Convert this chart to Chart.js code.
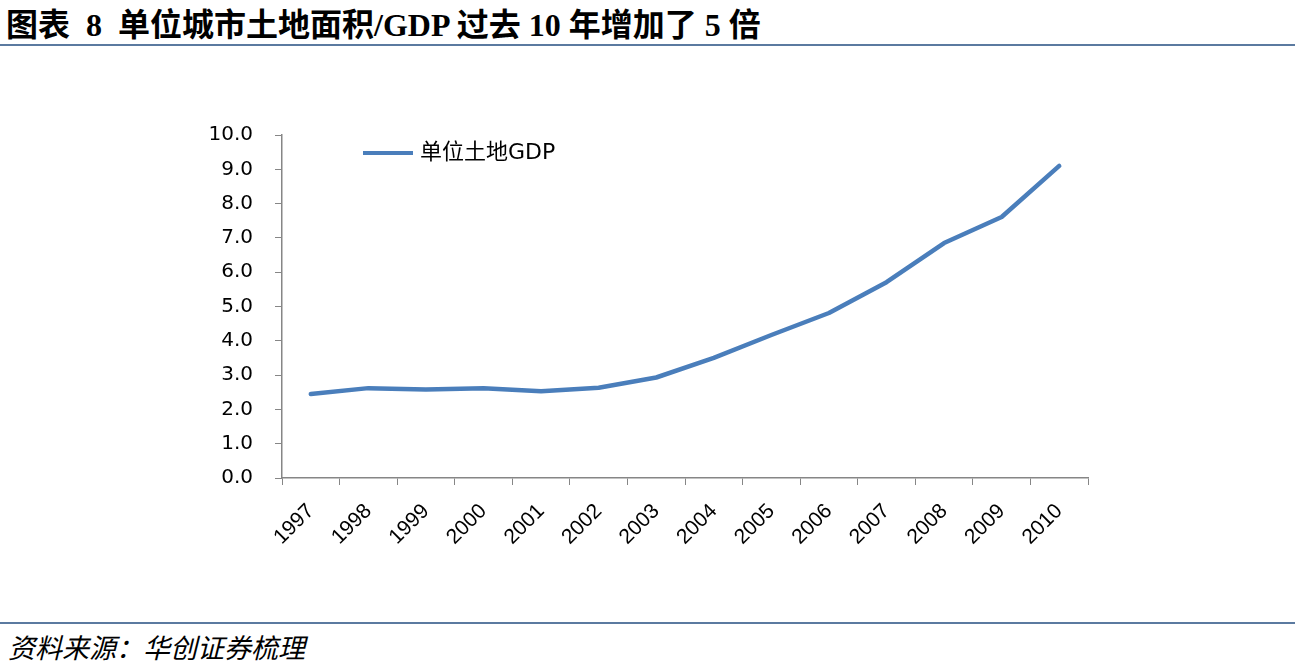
<!DOCTYPE html>
<html>
<head>
<meta charset="utf-8">
<script src="https://cdn.jsdelivr.net/npm/chart.js@4.4.1/dist/chart.umd.min.js"></script>
<style>
  html, body { margin: 0; padding: 0; background: #fff; }
  body { width: 1295px; height: 663px; position: relative; overflow: hidden; }
  .title {
    position: absolute; left: 6px; top: -1px;
    font: bold 32px "Liberation Serif", "Noto Sans CJK SC", serif;
    color: #000; white-space: nowrap;
  }
  .rule { position: absolute; left: 0; width: 1295px; height: 2px; background: #5b7aa0; }
  .source {
    position: absolute; left: 8px; top: 627px;
    font: italic 27px "Noto Sans CJK SC", serif; color: #000; white-space: nowrap;
  }
  #wrap { position: absolute; left: 0; top: 60px; width: 1295px; height: 540px; }
</style>
</head>
<body>
<div class="title">图表&nbsp; 8&nbsp; 单位城市土地面积/GDP 过去 10 年增加了 5 倍</div>
<div class="rule" style="top:44px"></div>
<div id="wrap"><canvas id="landChart"></canvas></div>
<div class="rule" style="top:622px"></div>
<div class="source">资料来源：华创证券梳理</div>

<script>
// data
const years = ['1997', '1998', '1999', '2000', '2001', '2002', '2003',
               '2004', '2005', '2006', '2007', '2008', '2009', '2010'];
const landGdp = [2.45, 2.62, 2.58, 2.62, 2.53, 2.63, 2.93,
                 3.50, 4.17, 4.81, 5.71, 6.85, 7.61, 9.10];
const seriesName = '单位土地GDP';

const axisGray = '#868686';
const lineBlue = '#4a7ebb';

// legend drawn inside the plot, like the original
const insideLegend = {
    id: 'insideLegend',
    afterDraw(chart) {
        const c = chart.ctx;
        const ds = chart.data.datasets[0];
        c.save();
        c.strokeStyle = ds.borderColor;
        c.lineWidth = 4;
        c.beginPath();
        c.moveTo(363, 93);
        c.lineTo(413, 93);
        c.stroke();
        c.fillStyle = '#000';
        c.font = '22px "DejaVu Sans", "Noto Sans CJK SC", sans-serif';
        c.textBaseline = 'middle';
        c.fillText(ds.label, 420, 93);
        c.restore();
    }
};

const ctx = document.getElementById('landChart').getContext('2d');
let landChart = new Chart(ctx, {
    type: 'line',
    data: {
        labels: years,
        datasets: [{
            label: seriesName,
            data: landGdp,
            borderColor: lineBlue,
            backgroundColor: lineBlue,
            borderWidth: 4.5,
            pointRadius: 0,
            tension: 0,
            borderCapStyle: 'round',
            borderJoinStyle: 'round'
        }]
    },
    options: {
        responsive: true,
        maintainAspectRatio: false,
        animation: false,
        layout: { padding: { top: 75, right: 207, bottom: 0, left: 0 } },
        plugins: {
            legend: { display: false },
            tooltip: { enabled: false }
        },
        scales: {
            x: {
                offset: true,
                afterFit: (scale) => { scale.height = 122; },
                grid: {
                    offset: true,
                    drawOnChartArea: false,
                    color: axisGray,
                    tickLength: 7,
                    tickColor: axisGray
                },
                border: { color: axisGray, width: 1.5 },
                ticks: {
                    color: '#000',
                    font: { family: '"Liberation Sans", sans-serif', size: 21 },
                    minRotation: 45,
                    maxRotation: 45,
                    padding: 14,
                    labelOffset: 0
                }
            },
            y: {
                min: 0,
                max: 10,
                afterFit: (scale) => { scale.width = 282; },
                grid: {
                    drawOnChartArea: false,
                    color: axisGray,
                    tickLength: 7,
                    tickColor: axisGray
                },
                border: { color: axisGray, width: 1.5 },
                ticks: {
                    stepSize: 1,
                    color: '#000',
                    font: { family: '"DejaVu Sans", sans-serif', size: 20 },
                    padding: 22,
                    callback: (v) => v.toFixed(1)
                }
            }
        }
    },
    plugins: [insideLegend]
});
</script>
</body>
</html>
